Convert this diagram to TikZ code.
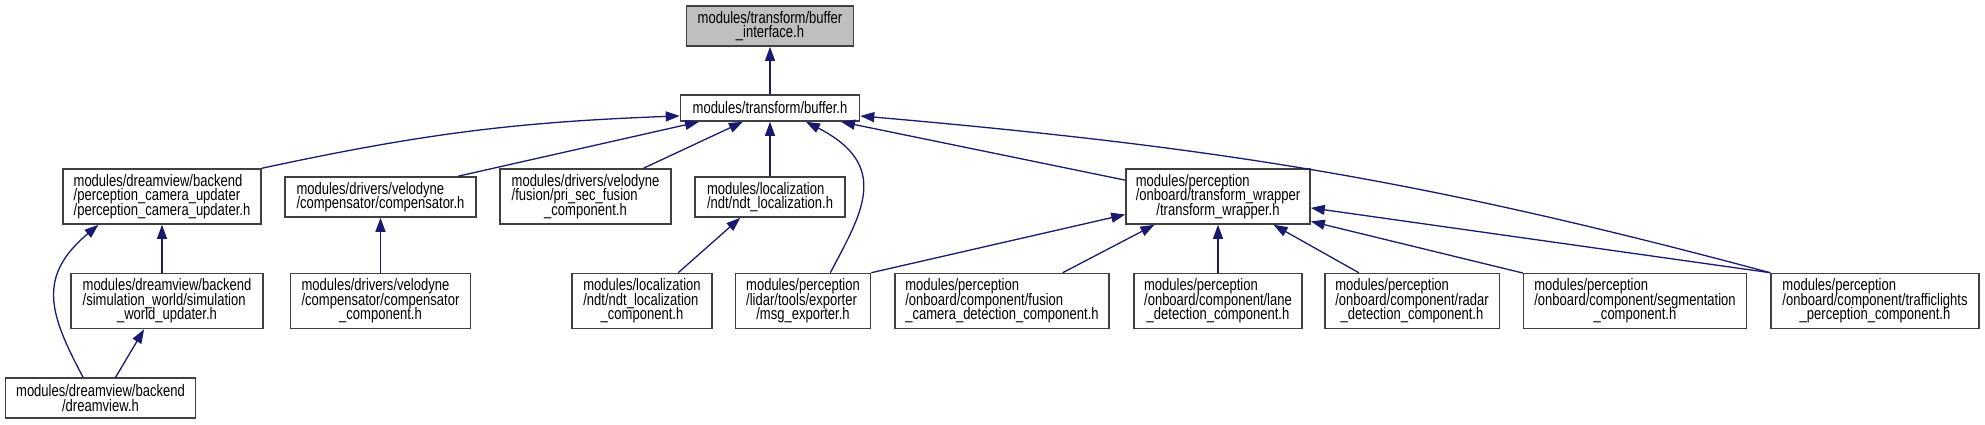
\documentclass[tikz,border=0pt]{standalone}
\usepackage{fontspec}
\setmainfont[FakeStretch=0.78]{Liberation Sans}
\usepackage{tikz}
\usetikzlibrary{arrows.meta,positioning,calc}
\definecolor{edgeblue}{RGB}{25,25,112}
\definecolor{boxgrey}{RGB}{64,64,64}
\definecolor{rootfill}{RGB}{191,191,191}
\newcommand{\flines}[2]{\vbox{\baselineskip=14.5pt\lineskiplimit=-\maxdimen\let\\\cr
  \halign{##\hfil\cr#1\cr\hfil#2\cr}}}
\newcommand{\oneline}[1]{\hbox{#1}}

\begin{document}
\begin{tikzpicture}[x=1pt, y=-1pt,
  every node/.style={font=\fontsize{16.7}{14.5}\selectfont},
  file/.style={draw=boxgrey, line width=1.6pt, fill=white, inner xsep=4pt, inner ysep=4pt},
  dep/.style={draw=edgeblue, line width=1.3pt, -{Triangle[length=14pt,width=10pt]}}]
\useasboundingbox (0,0) rectangle (1985,424);
\node[file, fill=rootfill, minimum width=167pt, minimum height=40pt] (bi) at (770,26) {\flines{modules/transform/buffer}{\_interface.h}};
\node[file, minimum width=179pt, minimum height=26pt] (buf) at (770,108) {\oneline{modules/transform/buffer.h}};
\node[file, minimum width=198.5pt, minimum height=55pt] (pcu) at (162,196.5) {\flines{modules/dreamview/backend\\/perception\_camera\_updater}{/perception\_camera\_updater.h}};
\node[file, minimum width=191pt, minimum height=40pt] (comp) at (380.5,197) {\flines{modules/drivers/velodyne}{/compensator/compensator.h}};
\node[file, minimum width=171pt, minimum height=55pt] (prisec) at (585.5,196.5) {\flines{modules/drivers/velodyne\\/fusion/pri\_sec\_fusion}{\_component.h}};
\node[file, minimum width=150pt, minimum height=40pt] (ndtloc) at (770,197) {\flines{modules/localization}{/ndt/ndt\_localization.h}};
\node[file, minimum width=184pt, minimum height=55pt] (tw) at (1218,196.5) {\flines{modules/perception\\/onboard/transform\_wrapper}{/transform\_wrapper.h}};
\node[file, minimum width=191.5pt, minimum height=55pt] (sim) at (167,301) {\flines{modules/dreamview/backend\\/simulation\_world/simulation}{\_world\_updater.h}};
\node[file, minimum width=180pt, minimum height=55pt] (compc) at (380.5,301) {\flines{modules/drivers/velodyne\\/compensator/compensator}{\_component.h}};
\node[file, minimum width=139.6pt, minimum height=55pt] (ndtc) at (642,301) {\flines{modules/localization\\/ndt/ndt\_localization}{\_component.h}};
\node[file, minimum width=135pt, minimum height=55pt] (msg) at (803,301) {\flines{modules/perception\\/lidar/tools/exporter}{/msg\_exporter.h}};
\node[file, minimum width=214.4pt, minimum height=55pt] (fusion) at (1002,301) {\flines{modules/perception\\/onboard/component/fusion}{\_camera\_detection\_component.h}};
\node[file, minimum width=168pt, minimum height=55pt] (lane) at (1218,301) {\flines{modules/perception\\/onboard/component/lane}{\_detection\_component.h}};
\node[file, minimum width=174.6pt, minimum height=55pt] (radar) at (1412,301) {\flines{modules/perception\\/onboard/component/radar}{\_detection\_component.h}};
\node[file, minimum width=222.8pt, minimum height=55pt] (seg) at (1635,301) {\flines{modules/perception\\/onboard/component/segmentation}{\_component.h}};
\node[file, minimum width=208pt, minimum height=55pt] (traffic) at (1875,301) {\flines{modules/perception\\/onboard/component/trafficlights}{\_perception\_component.h}};
\node[file, minimum width=190pt, minimum height=40pt] (dv) at (100.5,398) {\flines{modules/dreamview/backend}{/dreamview.h}};
\draw[dep] (buf) -- (bi);
\draw[dep] (pcu.north east) to[bend left=5] (buf.185);
\draw[dep] (comp.15) -- (buf.191);
\draw[dep] (prisec.26) -- (buf.207);
\draw[dep] (ndtloc) -- (buf);
\draw[dep] (msg.46) .. controls +(31,-59) and +(86,44) .. (buf.339);
\draw[dep] (tw.170) -- (buf.349);
\draw[dep] (traffic.north west) to[out=165, in=-5] (buf.355);
\draw[dep] (sim.north -| pcu.south) -- (pcu.south);
\draw[dep] (dv.130) .. controls +(-33.5,-63) and +(-62,52) .. (pcu.204);
\draw[dep] (dv.54) -- (sim.231);
\draw[dep] (compc) -- (comp);
\draw[dep] (ndtc.38) -- (ndtloc.215);
\draw[dep] (msg.north east) -- (tw.191);
\draw[dep] (fusion.25) -- (tw.204);
\draw[dep] (lane) -- (tw);
\draw[dep] (radar.152) -- (tw.333);
\draw[dep] (seg.166) -- (tw.345);
\draw[dep] (traffic.north west) -- (tw.353);
\end{tikzpicture}
\end{document}
